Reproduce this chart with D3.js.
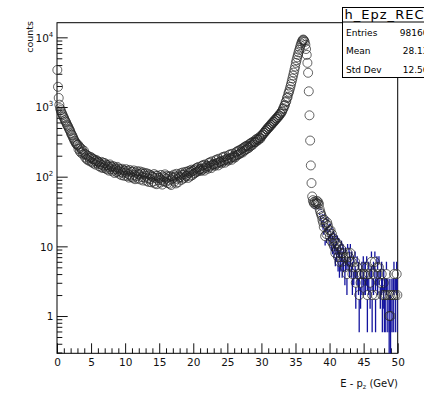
<!DOCTYPE html>
<html>
<head>
<meta charset="utf-8">
<script src="https://cdn.jsdelivr.net/npm/d3@7"></script>
<style>
  body { margin: 0; background: #fff; }
  text { font-family: "DejaVu Sans", sans-serif; }
</style>
</head>
<body>
<div id="chart"></div>
<script>
// bin contents, 0.1 GeV bins (0 = empty bin)
var counts0to10 = [
  3400, 1950, 1350, 1080, 960, 900, 840, 800, 760, 720,
  690, 650, 620, 600, 560, 540, 520, 490, 470, 450,
  420, 400, 390, 365, 350, 330, 320, 305, 295, 285,
  290, 250, 272, 231, 258, 219, 247, 226, 208, 236,
  214, 188, 209, 179, 201, 172, 196, 183, 166, 190,
  189, 161, 180, 155, 177, 168, 149, 174, 158, 167,
  164, 142, 159, 151, 136, 163, 146, 133, 157, 140,
  156, 131, 148, 127, 145, 138, 122, 150, 129, 141,
  137, 119, 142, 126, 113, 135, 128, 116, 138, 121,
  131, 110, 127, 118, 105, 130, 114, 124, 103, 122
];
var counts10to20 = [
  114, 128, 102, 121, 109, 97, 125, 104, 117, 99,
  118, 96, 123, 106, 92, 115, 101, 120, 94, 110,
  107, 119, 91, 112, 99, 116, 88, 109, 97, 113,
  103, 87, 111, 95, 84, 108, 92, 105, 83, 101,
  99, 85, 109, 80, 96, 104, 78, 103, 89, 97,
  95, 82, 106, 90, 77, 101, 86, 98, 108, 84,
  94, 103, 81, 99, 88, 79, 102, 76, 91, 100,
  96, 107, 85, 101, 80, 110, 93, 83, 104, 97,
  99, 112, 90, 106, 115, 94, 108, 97, 117, 102,
  104, 119, 96, 113, 122, 101, 117, 126, 105, 121
];
var counts20to30 = [
  110, 126, 113, 131, 117, 134, 119, 138, 123, 128,
  129, 121, 143, 126, 147, 131, 122, 150, 134, 144,
  141, 130, 157, 138, 161, 144, 133, 166, 150, 147,
  153, 143, 172, 151, 176, 157, 145, 181, 163, 160,
  168, 155, 189, 165, 193, 172, 159, 197, 178, 171,
  183, 170, 205, 181, 210, 187, 175, 214, 194, 188,
  201, 189, 224, 202, 231, 207, 236, 211, 242, 218,
  229, 252, 222, 259, 235, 268, 243, 276, 249, 281,
  270, 258, 295, 273, 304, 281, 312, 289, 320, 309,
  314, 340, 318, 350, 341, 336, 366, 357, 352, 388
];
var counts30to40 = [
  380, 402, 405, 425, 428, 452, 450, 478, 476, 505,
  498, 530, 525, 558, 553, 590, 582, 618, 612, 652,
  645, 685, 680, 720, 716, 760, 758, 805, 802, 850,
  870, 935, 960, 1040, 1065, 1170, 1215, 1345, 1400, 1560,
  1650, 1790, 1950, 2130, 2340, 2570, 2830, 3120, 3450, 3800,
  4300, 4700, 5150, 5600, 6100, 6600, 7100, 7700, 8200, 8700,
  9100, 9300, 9000, 8600, 7800, 6800, 5600, 4300, 3100, 1680,
  760, 330, 145, 81, 52, 46, 43, 41, 44, 40,
  42, 45, 41, 43, 40, 34, 31, 29, 27, 24,
  22, 19, 24, 14, 21, 15, 22, 20, 16, 17
];
var counts40to50 = [
  14, 17, 12, 15, 11, 13, 10, 12, 8, 11,
  9, 11, 7, 10, 6, 8, 7, 9, 6, 8,
  7, 0, 5, 7, 0, 4, 8, 0, 7, 6,
  8, 0, 6, 4, 0, 5, 0, 6, 3, 0,
  5, 0, 4, 2, 0, 3, 0, 4, 0, 5,
  4, 0, 4, 0, 5, 2, 0, 4, 0, 3,
  0, 6, 2, 0, 4, 0, 6, 2, 0, 5,
  4, 0, 5, 0, 3, 0, 4, 2, 0, 3,
  2, 0, 2, 4, 0, 2, 0, 1, 2, 1,
  0, 2, 0, 2, 4, 0, 2, 0, 4, 2
];

var binWidth = 0.1;
var xMajorTicks = [0, 5, 10, 15, 20, 25, 30, 35, 40, 45, 50];
var yMajorTicks = [1, 10, 100, 1000, 10000];
var yTickLabels = [["1", ""], ["10", ""], ["10", "2"], ["10", "3"], ["10", "4"]];

var statsTitle = "h_Epz_REC";
var statsLabels = ["Entries", "Mean", "Std Dev"];
var statsValues = ["98160", "28.13", "12.56"];

var svgWidth = 424;
var svgHeight = 397;
var frame = { left: 57, right: 397.7, top: 22.7, bottom: 353.3 };

var counts = counts0to10.concat(counts10to20, counts20to30, counts30to40, counts40to50);
var data = counts.map(function(c, i) { return { x: (i + 0.5) * binWidth, n: c }; })
  .filter(function(d) { return d.n > 0; });

var svg = d3.select("#chart").append("svg")
  .attr("width", svgWidth)
  .attr("height", svgHeight);

svg.append("rect").attr("width", svgWidth).attr("height", svgHeight).attr("fill", "#fff");

var xScale = d3.scaleLinear().domain([0, 50]).range([frame.left, frame.right]);
var yScale = d3.scaleLog()
  .domain([Math.pow(10, -0.535), Math.pow(10, 4.21)])
  .range([frame.bottom, frame.top]);

svg.append("clipPath").attr("id", "plotclip")
  .append("rect")
  .attr("x", frame.left).attr("y", frame.top)
  .attr("width", frame.right - frame.left)
  .attr("height", frame.bottom - frame.top);

// minor ticks
var xMinor = d3.range(0, 51).filter(function(v) { return v % 5 !== 0; });
var yMinor = [];
[0.1, 1, 10, 100, 1000].forEach(function(dec) {
  for (var k = 2; k <= 9; k++) {
    var v = dec * k;
    if (v >= yScale.domain()[0] && v <= yScale.domain()[1]) yMinor.push(v);
  }
});

svg.append("g")
  .attr("transform", "translate(0," + frame.bottom + ")")
  .call(d3.axisBottom(xScale).tickValues(xMinor).tickSize(-5).tickFormat(""));
var xAxis = svg.append("g")
  .attr("transform", "translate(0," + frame.bottom + ")")
  .call(d3.axisBottom(xScale).tickValues(xMajorTicks).tickSize(-10).tickPadding(5.5).tickFormat(d3.format("d")));

svg.append("g")
  .attr("transform", "translate(" + frame.left + ",0)")
  .call(d3.axisLeft(yScale).tickValues(yMinor).tickSize(-5.3).tickFormat(""));
var yAxis = svg.append("g")
  .attr("transform", "translate(" + frame.left + ",0)")
  .call(d3.axisLeft(yScale).tickValues(yMajorTicks).tickSize(-10.7).tickPadding(4).tickFormat(""));

svg.selectAll(".domain").remove();
svg.selectAll(".tick line").attr("stroke", "#111").attr("stroke-width", 1);
xAxis.selectAll("text").attr("font-size", 10.5).attr("fill", "#111");

// y labels with superscript exponents
yAxis.selectAll(".tick").each(function(d, i) {
  var t = d3.select(this).select("text")
    .attr("font-size", 10.5).attr("fill", "#111")
    .attr("x", -3.7).attr("dy", "0.36em");
  t.append("tspan").text(yTickLabels[i][0]);
  if (yTickLabels[i][1]) {
    t.append("tspan").attr("dy", -5).attr("font-size", 7).text(yTickLabels[i][1]);
  }
});

// frame
svg.append("rect")
  .attr("x", frame.left).attr("y", frame.top)
  .attr("width", frame.right - frame.left)
  .attr("height", frame.bottom - frame.top)
  .attr("fill", "none").attr("stroke", "#000").attr("stroke-width", 1);

// error bars (drawn outside the marker, like ROOT)
var r = 4.5;
var errGroup = svg.append("g").attr("clip-path", "url(#plotclip)")
  .attr("stroke", "#13139e").attr("stroke-width", 1.3);

data.forEach(function(d) {
  var cx = xScale(d.x), cy = yScale(d.n);
  var e = Math.sqrt(d.n);
  var yHi = yScale(d.n + e);
  var yLo = d.n - e > 0 ? yScale(d.n - e) : frame.bottom + 2;
  if (yHi < cy - r) {
    errGroup.append("line").attr("x1", cx).attr("x2", cx).attr("y1", cy - r).attr("y2", yHi);
  }
  if (yLo > cy + r) {
    errGroup.append("line").attr("x1", cx).attr("x2", cx).attr("y1", cy + r).attr("y2", yLo);
  }
});

// open circle markers
svg.append("g")
  .selectAll("circle")
  .data(data)
  .enter()
  .append("circle")
  .attr("cx", d => xScale(d.x))
  .attr("cy", d => yScale(d.n))
  .attr("r", r)
  .attr("fill", "none")
  .attr("stroke", "#222")
  .attr("stroke-width", 0.7);

// axis titles
svg.append("text")
  .attr("transform", "translate(33,21) rotate(-90)")
  .attr("text-anchor", "end")
  .attr("font-size", 9.5)
  .attr("fill", "#111")
  .text("counts");

var xt = svg.append("text")
  .attr("x", 398).attr("y", 386.5)
  .attr("text-anchor", "end")
  .attr("font-size", 10)
  .attr("fill", "#111");
xt.append("tspan").text("E - p");
xt.append("tspan").attr("dy", 2.5).attr("font-size", 6.5).text("z");
xt.append("tspan").attr("dy", -2.5).text(" (GeV)");

// stats box
var box = svg.append("g");
box.append("rect")
  .attr("x", 342.5).attr("y", 7.5)
  .attr("width", 110).attr("height", 70)
  .attr("fill", "#fff").attr("stroke", "#000").attr("stroke-width", 1);
box.append("line")
  .attr("x1", 342.5).attr("x2", 452.5)
  .attr("y1", 22).attr("y2", 22)
  .attr("stroke", "#000").attr("stroke-width", 1);
box.append("text")
  .attr("x", 344.5).attr("y", 19)
  .attr("font-size", 13)
  .attr("textLength", 79).attr("lengthAdjust", "spacing")
  .attr("fill", "#000")
  .text(statsTitle);
box.selectAll(".slabel")
  .data(statsLabels)
  .enter()
  .append("text")
  .attr("x", 346).attr("y", (d, i) => 36 + i * 18.3)
  .attr("font-size", 9)
  .attr("fill", "#000")
  .text(d => d);
box.selectAll(".svalue")
  .data(statsValues)
  .enter()
  .append("text")
  .attr("x", 428.5).attr("y", (d, i) => 36 + i * 18.3)
  .attr("text-anchor", "end")
  .attr("font-size", 9)
  .attr("fill", "#000")
  .text(d => d);
</script>
</body>
</html>
